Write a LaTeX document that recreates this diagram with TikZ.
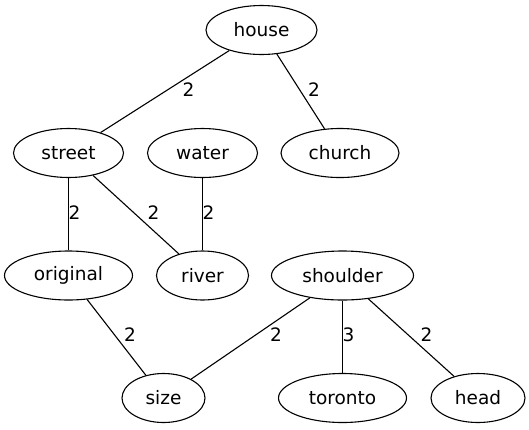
\documentclass[tikz,border=0pt]{standalone}
\usepackage{fontspec}
\setmainfont{DejaVu Sans}
\usetikzlibrary{shapes.geometric}
\tikzset{
  vtx/.style={draw, ellipse, line width=1.1pt, minimum height=49pt, inner sep=0pt,
    font=\fontsize{18.5}{22}\selectfont},
  lbl/.style={inner sep=0pt, font=\fontsize{18.5}{22}\selectfont},
  edg/.style={line width=1.1pt}
}
\begin{document}
\begin{tikzpicture}[x=1pt,y=-1pt]
\useasboundingbox (0,0) rectangle (529,429);
\node[vtx, minimum width=111pt] (house) at (261.5,30) {house};
\node[vtx, minimum width=110pt] (street) at (68.5,153) {street};
\node[vtx, minimum width=110pt] (water) at (202.5,153) {water};
\node[vtx, minimum width=118pt] (church) at (340,153) {church};
\node[vtx, minimum width=128pt] (original) at (68.5,275.5) {original};
\node[vtx, minimum width=92pt] (river) at (202.5,275.5) {river};
\node[vtx, minimum width=142pt] (shoulder) at (342.5,275.5) {shoulder};
\node[vtx, minimum width=83pt] (size) at (163.5,398) {size};
\node[vtx, minimum width=128pt] (toronto) at (342.5,398) {toronto};
\node[vtx, minimum width=94pt] (head) at (478,398) {head};

\draw[edg] (house) -- (street);
\draw[edg] (house) -- (church);
\draw[edg] (street) -- (original);
\draw[edg] (street) -- (river);
\draw[edg] (water) -- (river);
\draw[edg] (original) -- (size);
\draw[edg] (shoulder) -- (size);
\draw[edg] (shoulder) -- (toronto);
\draw[edg] (shoulder) -- (head);

\node[lbl] (l1) at (188.5,90) {2};
\node[lbl] (l2) at (314,90) {2};
\node[lbl] (l3) at (74.5,212.5) {2};
\node[lbl] (l4) at (153.5,212.5) {2};
\node[lbl] (l5) at (208.5,212.5) {2};
\node[lbl] (l6) at (130,335) {2};
\node[lbl] (l7) at (276,335) {2};
\node[lbl] (l8) at (348.5,335) {3};
\node[lbl] (l9) at (426.5,335) {2};
\end{tikzpicture}
\end{document}
